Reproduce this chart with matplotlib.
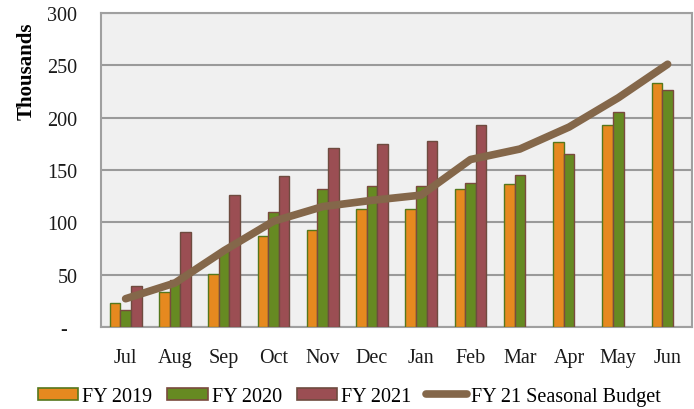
import matplotlib
matplotlib.use("Agg")
import matplotlib.pyplot as plt
import numpy as np
from matplotlib.patches import Patch
from matplotlib.lines import Line2D

months = ["Jul", "Aug", "Sep", "Oct", "Nov", "Dec", "Jan", "Feb", "Mar", "Apr", "May", "Jun"]
fy2019 = [23, 33, 51, 87, 93, 113, 113, 132, 137, 177, 193, 233]
fy2020 = [16, 45, 74, 110, 132, 135, 135, 138, 145, 165, 205, 226]
fy2021 = [39, 91, 126, 144, 171, 175, 178, 193, np.nan, np.nan, np.nan, np.nan]
budget = [27, 42, 73, 101, 115, 121, 126, 160, 170, 191, 219, 251]
yticks = [0, 50, 100, 150, 200, 250, 300]
ytick_labels = ["-  ", "50", "100", "150", "200", "250", "300"]

plt.rcParams['font.family'] = ['Liberation Serif', 'DejaVu Serif']

fig = plt.figure(figsize=(6.94, 4.10), dpi=100)
ax = fig.add_axes([0.1455, 0.2, 0.852, 0.766])

x = np.arange(len(months))
w = 0.215
c19, c20, c21, cl = "#E6891F", "#668A22", "#9B4E53", "#84674A"
e19, e20, e21 = "#55771C", "#7A4A3E", "#6E4B3F"

ax.set_facecolor("#f0f0f0")
ax.bar(x - w, fy2019, w, color=c19, edgecolor=e19, linewidth=1.0, zorder=3)
ax.bar(x, fy2020, w, color=c20, edgecolor=e20, linewidth=1.0, zorder=3)
ax.bar(x + w, fy2021, w, color=c21, edgecolor=e21, linewidth=1.0, zorder=3)
ax.plot(x, budget, color=cl, linewidth=5.5, solid_capstyle='round', solid_joinstyle='round', zorder=4)

ax.set_xlim(-0.5, 11.5)
ax.set_ylim(0, 300)
ax.set_yticks(yticks)
ax.set_yticklabels(ytick_labels)
ax.set_xticks(x)
ax.set_xticklabels(months)
ax.tick_params(axis='both', length=0, labelsize=14.5, colors="#1a1a1a")
ax.tick_params(axis='y', pad=17)
ax.tick_params(axis='x', pad=15)
ax.yaxis.grid(True, color="#9a9a9a", linewidth=1.5, zorder=1)
ax.set_axisbelow(True)
for s in ax.spines.values():
    s.set_color("#a0a0a0")
    s.set_linewidth(1.5)
ax.set_ylabel("Thousands", fontsize=15, fontweight='bold', va='center', ha='center')
ax.yaxis.set_label_coords(-0.125, 0.818)

handles = [
    Patch(facecolor=c19, edgecolor=e19, linewidth=1.2, label="FY 2019"),
    Patch(facecolor=c20, edgecolor=e20, linewidth=1.2, label="FY 2020"),
    Patch(facecolor=c21, edgecolor=e21, linewidth=1.2, label="FY 2021"),
    Line2D([0], [0], color=cl, linewidth=5.5, solid_capstyle='round', label="FY 21 Seasonal Budget"),
]
fig.legend(handles=handles, loc='center', bbox_to_anchor=(0.503, 0.03), ncol=4, frameon=False,
           fontsize=14.5, handlelength=2.0, handleheight=0.6, handletextpad=0.2, columnspacing=0.75,
           borderpad=0, borderaxespad=0)

fig.savefig("out.png", dpi=100)
